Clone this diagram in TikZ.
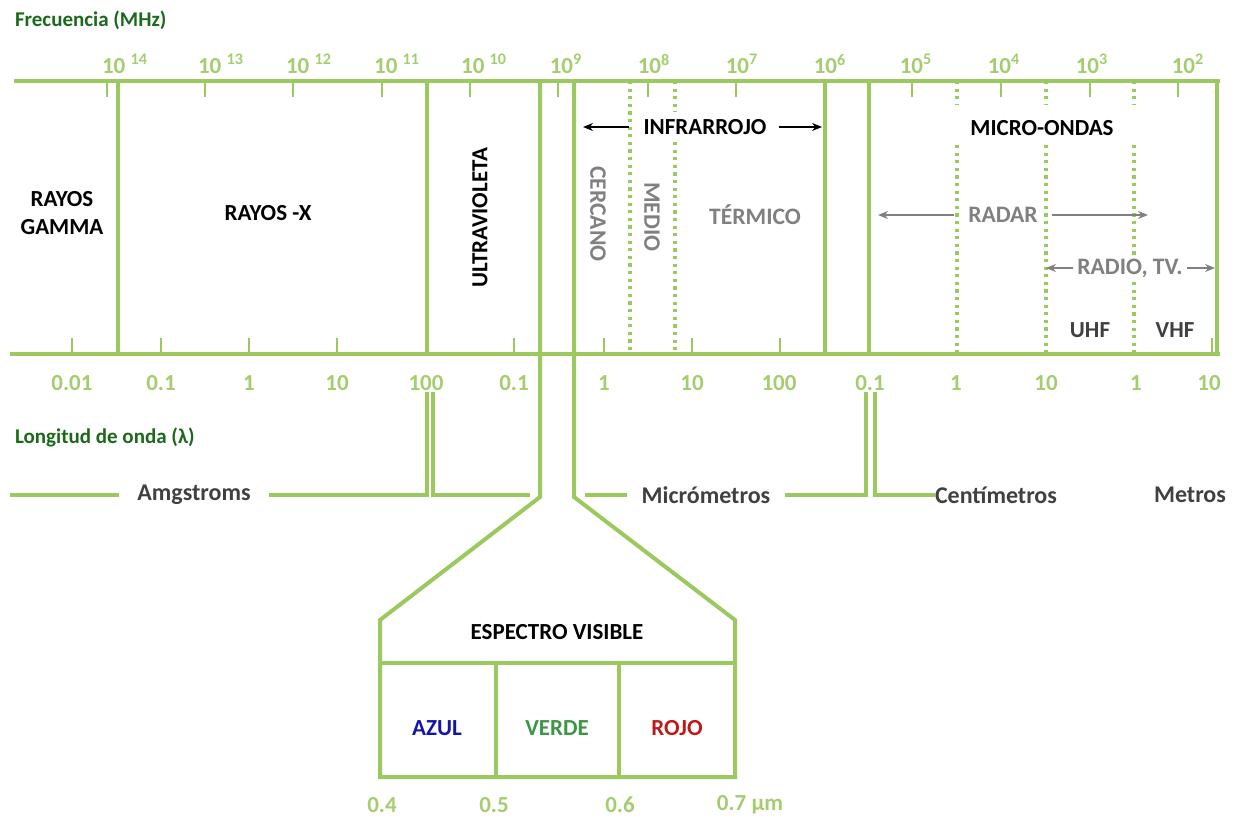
\documentclass[tikz,border=0pt]{standalone}
\usepackage{fontspec}
\setmainfont{Carlito}
\usetikzlibrary{arrows.meta,positioning}
\definecolor{specgreen}{RGB}{155,200,95}
\definecolor{numgreen}{RGB}{165,205,112}
\definecolor{titlegreen}{RGB}{28,105,28}
\definecolor{softgray}{RGB}{128,128,128}
\definecolor{darkgray}{RGB}{64,64,64}
\definecolor{bandblue}{RGB}{20,20,170}
\definecolor{bandgreen}{RGB}{60,150,70}
\definecolor{bandred}{RGB}{190,25,25}

\begin{document}
\begin{tikzpicture}[x=0.5pt,y=-0.5pt,
        band/.style={draw=specgreen, line width=2pt},
        tick/.style={draw=specgreen, line width=0.75pt},
        sub/.style={draw=specgreen, line width=1.6pt, dash pattern=on 1.6pt off 2.2pt},
        lbl/.style={font=\bfseries\fontsize{11.5}{14}\selectfont, inner sep=2pt},
        gry/.style={lbl, font=\bfseries\fontsize{11.8}{14}\selectfont, text=softgray},
        num/.style={font=\bfseries\fontsize{11.5}{14}\selectfont, text=numgreen},
        unit/.style={font=\bfseries\fontsize{12}{14}\selectfont, text=darkgray},
        ttl/.style={font=\bfseries\fontsize{10.5}{12}\selectfont, text=titlegreen, anchor=west},
        blk/.style={-{Stealth[length=5pt,width=4pt]}, line width=0.7pt, draw=black},
        gar/.style={-{Stealth[length=5pt,width=4pt]}, line width=0.7pt, draw=softgray}]
  \useasboundingbox (0,0) rectangle (1240,818);

  % axis titles
  \node[ttl] (freq) at (8,20) {Frecuencia (MHz)};
  \node[ttl] (lambda) at (8,437) {Longitud de onda (λ)};

  % frequency scale
  \foreach \x/\e in {125/14,221/13,309/12,397/11,484/10}
    \node[num] (f\e) at (\x,64) {10 \textsuperscript{\e}};
  \foreach \x/\e in {566/9,654/8,742/7,830/6,916/5,1004/4,1092/3,1188/2}
    \node[num] (f\e) at (\x,64) {10\textsuperscript{\e}};

  % wavelength scale
  \foreach \x/\v [count=\i] in {72/0.01,161/0.1,249/1,337/10,426/100,514/0.1,604/1,692/10,779/100,870/0.1,956/1,1046/10,1136/1,1209/10}
    \node[num] (w\i) at (\x,383) {\v};

  % ticks
  \foreach \x in {107,205,293,382,470,558,648,736,912,1001,1090,1178}
    \draw[tick] (\x,81) -- (\x,97);
  \foreach \x in {72,161,249,337,514,604,692,780,1212}
    \draw[tick] (\x,354) -- (\x,338);

  % sub-band dotted lines
  \draw[sub] (630,81) -- (630,354);
  \draw[sub] (675,81) -- (675,112) (675,142) -- (675,354);
  \draw[sub] (957,81) -- (957,105) (957,145) -- (957,354);
  \draw[sub] (1046,81) -- (1046,105) (1046,145) -- (1046,354);
  \draw[sub] (1134,81) -- (1134,105) (1134,145) -- (1134,255) (1134,282) -- (1134,354);

  % frame and band limits
  \draw[band] (14,81) -- (1220,81);
  \draw[band] (10,354) -- (1220,354);
  \foreach \x in {118,427,825,869,1217}
    \draw[band] (\x,81) -- (\x,354);
  \draw[band, line join=miter] (540,81) -- (540,497) -- (380,620) -- (380,777)
    -- (735,777) -- (735,620) -- (574,497) -- (574,81);
  \draw[band] (380,663) -- (735,663);
  \draw[band] (496,663) -- (496,777);
  \draw[band] (619,663) -- (619,777);

  % region labels
  \node[lbl, align=center] (gamma) at (62,213) {RAYOS\\GAMMA};
  \node[lbl] (xray) at (268,213) {RAYOS -X};
  \node[lbl, rotate=90] (uv) at (480,218) {ULTRAVIOLETA};
  \node[lbl] (ir) at (705,127) {INFRARROJO};
  \node[lbl] (mw) at (1042,128) {MICRO-ONDAS};
  \coordinate (irL) at (583,127);
  \coordinate (irR) at (822,127);
  \draw[blk] ([xshift=-5pt]ir.west) -- (irL);
  \draw[blk] ([xshift=4pt]ir.east) -- (irR);

  \node[gry, rotate=-90] (near) at (598,214) {CERCANO};
  \node[gry, rotate=-90] (mid) at (652,217) {MEDIO};
  \node[gry] (therm) at (755,215) {TÉRMICO};
  \node[gry] (radar) at (1003,215) {RADAR};
  \coordinate (radL) at (878,215);
  \coordinate (radR) at (1148,215);
  \draw[gar] ([xshift=-5pt]radar.west) -- (radL);
  \draw[gar] ([xshift=5pt]radar.east) -- (radR);
  \node[gry] (radio) at (1130,268) {RADIO, TV.};
  \coordinate (rtL) at (1046,268);
  \coordinate (rtR) at (1215,268);
  \draw[gar] (radio.west) -- (rtL);
  \draw[gar] (radio.east) -- (rtR);
  \node[lbl, text=darkgray] (uhf) at (1090,330) {UHF};
  \node[lbl, text=darkgray] (vhf) at (1175,330) {VHF};

  % units below the scale
  \node[unit, inner xsep=9pt] (amg) at (194,495) {Amgstroms};
  \node[unit, inner xsep=7pt] (micro) at (706,495) {Micrómetros};
  \node[unit, inner xsep=0pt] (cent) at (996,495) {Centímetros};
  \node[unit] (metros) at (1190,495) {Metros};
  \draw[band] (10,495) -- (amg.west);
  \draw[band] (amg.east) -- (427,495) -- (427,392);
  \draw[band] (433,392) -- (433,495) -- (530,495);
  \draw[band] (585,495) -- (micro.west);
  \draw[band] (micro.east) -- (866,495) -- (866,392);
  \draw[band] (875,392) -- (875,495) -- (cent.west);

  % visible spectrum
  \node[lbl] (vis) at (557,632) {ESPECTRO VISIBLE};
  \node[lbl, text=bandblue] (blue) at (437,728) {AZUL};
  \node[lbl, text=bandgreen] (green) at (557,728) {VERDE};
  \node[lbl, text=bandred] (red) at (677,728) {ROJO};
  \node[num] (v4) at (382,805) {0.4};
  \node[num] (v5) at (494,805) {0.5};
  \node[num] (v6) at (620,805) {0.6};
  \node[num] (v7) at (750,805) {0.7 µm};
\end{tikzpicture}
\end{document}
